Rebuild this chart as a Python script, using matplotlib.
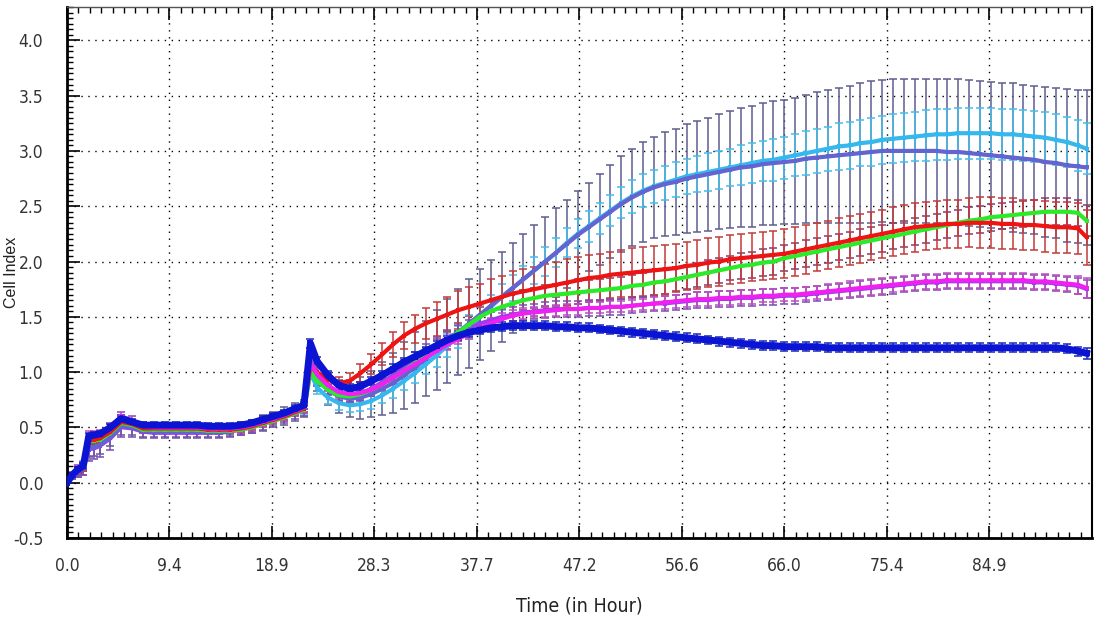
import matplotlib
matplotlib.use('Agg')
import matplotlib.pyplot as plt
from matplotlib import font_manager
from matplotlib.ticker import AutoMinorLocator, FixedLocator

# time points (hours)
hours = [0, 0.5, 1, 1.5, 2, 2.5, 3, 4, 5, 6,
         7, 8, 9, 10, 11, 12, 13, 14, 15, 16,
         17, 18, 19, 20, 21, 21.8, 22.4, 23, 24, 25,
         26, 27, 28, 29, 30, 31, 32, 33, 34, 35,
         36, 37, 38, 39, 40, 41, 42, 43, 44, 45,
         46, 47, 48, 49, 50, 51, 52, 53, 54, 55,
         56, 57, 58, 59, 60, 61, 62, 63, 64, 65,
         66, 67, 68, 69, 70, 71, 72, 73, 74, 75,
         76, 77, 78, 79, 80, 81, 82, 83, 84, 85,
         86, 87, 88, 89, 90, 91, 92, 93, 93.8]

# cell index, mean per condition
blue = [0.00, 0.07, 0.12, 0.15, 0.42, 0.43, 0.44, 0.50, 0.58, 0.55,
        0.52, 0.52, 0.52, 0.52, 0.52, 0.52, 0.51, 0.51, 0.51, 0.52,
        0.54, 0.57, 0.60, 0.63, 0.67, 0.70, 1.26, 1.10, 0.97, 0.88,
        0.85, 0.87, 0.92, 0.97, 1.03, 1.09, 1.14, 1.19, 1.24, 1.29,
        1.33, 1.36, 1.38, 1.40, 1.41, 1.42, 1.42, 1.42, 1.42, 1.41,
        1.41, 1.40, 1.40, 1.39, 1.38, 1.37, 1.36, 1.35, 1.34, 1.33,
        1.32, 1.31, 1.30, 1.29, 1.28, 1.27, 1.26, 1.25, 1.24, 1.24,
        1.23, 1.23, 1.23, 1.23, 1.22, 1.22, 1.22, 1.22, 1.22, 1.22,
        1.22, 1.22, 1.22, 1.22, 1.22, 1.22, 1.22, 1.22, 1.22, 1.22,
        1.22, 1.22, 1.22, 1.22, 1.22, 1.22, 1.21, 1.19, 1.17]
red = [0.00, 0.07, 0.11, 0.14, 0.38, 0.39, 0.40, 0.46, 0.55, 0.53,
       0.49, 0.49, 0.49, 0.49, 0.49, 0.49, 0.48, 0.48, 0.48, 0.49,
       0.51, 0.54, 0.57, 0.60, 0.64, 0.67, 1.05, 1.00, 0.93, 0.90,
       0.92, 0.99, 1.07, 1.16, 1.25, 1.33, 1.39, 1.44, 1.48, 1.52,
       1.56, 1.59, 1.62, 1.65, 1.68, 1.71, 1.73, 1.75, 1.77, 1.79,
       1.81, 1.83, 1.85, 1.86, 1.88, 1.89, 1.90, 1.91, 1.92, 1.93,
       1.94, 1.96, 1.97, 1.99, 2.00, 2.02, 2.03, 2.04, 2.05, 2.06,
       2.07, 2.09, 2.11, 2.13, 2.15, 2.17, 2.19, 2.21, 2.23, 2.25,
       2.27, 2.29, 2.31, 2.32, 2.33, 2.34, 2.34, 2.35, 2.35, 2.35,
       2.34, 2.34, 2.33, 2.33, 2.32, 2.31, 2.31, 2.30, 2.22]
green = [0.00, 0.07, 0.11, 0.14, 0.37, 0.38, 0.39, 0.45, 0.54, 0.52,
         0.48, 0.48, 0.48, 0.48, 0.48, 0.48, 0.47, 0.47, 0.47, 0.48,
         0.50, 0.53, 0.56, 0.59, 0.63, 0.66, 1.00, 0.92, 0.84, 0.79,
         0.78, 0.80, 0.84, 0.89, 0.95, 1.01, 1.08, 1.15, 1.22, 1.29,
         1.36, 1.43, 1.50, 1.55, 1.59, 1.62, 1.65, 1.67, 1.69, 1.70,
         1.71, 1.72, 1.73, 1.74, 1.75, 1.76, 1.78, 1.79, 1.81, 1.82,
         1.84, 1.86, 1.88, 1.90, 1.92, 1.94, 1.96, 1.97, 1.99, 2.00,
         2.03, 2.05, 2.07, 2.09, 2.11, 2.13, 2.15, 2.17, 2.19, 2.21,
         2.23, 2.25, 2.27, 2.29, 2.31, 2.33, 2.35, 2.37, 2.38, 2.40,
         2.41, 2.42, 2.43, 2.44, 2.45, 2.45, 2.45, 2.44, 2.37]
magenta = [0.00, 0.08, 0.13, 0.16, 0.43, 0.43, 0.44, 0.50, 0.60, 0.56,
           0.51, 0.50, 0.50, 0.50, 0.50, 0.50, 0.49, 0.49, 0.49, 0.50,
           0.52, 0.55, 0.58, 0.61, 0.65, 0.68, 1.08, 0.98, 0.88, 0.82,
           0.80, 0.81, 0.84, 0.89, 0.95, 1.01, 1.07, 1.13, 1.19, 1.25,
           1.30, 1.35, 1.40, 1.44, 1.48, 1.51, 1.53, 1.54, 1.55, 1.56,
           1.57, 1.57, 1.58, 1.58, 1.59, 1.59, 1.60, 1.61, 1.62, 1.63,
           1.64, 1.65, 1.66, 1.66, 1.67, 1.67, 1.68, 1.68, 1.69, 1.69,
           1.70, 1.70, 1.71, 1.72, 1.73, 1.74, 1.75, 1.76, 1.77, 1.78,
           1.79, 1.80, 1.81, 1.82, 1.82, 1.83, 1.83, 1.83, 1.83, 1.83,
           1.83, 1.83, 1.83, 1.82, 1.82, 1.81, 1.80, 1.79, 1.76]
violet = [0.00, 0.06, 0.10, 0.13, 0.30, 0.31, 0.33, 0.40, 0.50, 0.49,
          0.46, 0.45, 0.45, 0.45, 0.45, 0.45, 0.45, 0.45, 0.46, 0.48,
          0.50, 0.53, 0.56, 0.59, 0.63, 0.66, 1.10, 0.96, 0.87, 0.82,
          0.80, 0.81, 0.85, 0.91, 0.97, 1.04, 1.11, 1.18, 1.25, 1.31,
          1.36, 1.40, 1.44, 1.47, 1.50, 1.52, 1.54, 1.55, 1.56, 1.57,
          1.57, 1.57, 1.58, 1.58, 1.59, 1.59, 1.60, 1.61, 1.62, 1.62,
          1.63, 1.64, 1.65, 1.65, 1.66, 1.66, 1.67, 1.67, 1.68, 1.68,
          1.69, 1.69, 1.70, 1.71, 1.72, 1.73, 1.74, 1.75, 1.76, 1.77,
          1.78, 1.79, 1.80, 1.81, 1.81, 1.82, 1.82, 1.82, 1.82, 1.82,
          1.82, 1.82, 1.82, 1.81, 1.81, 1.80, 1.79, 1.78, 1.75]
cyan = [0.00, 0.08, 0.13, 0.17, 0.40, 0.41, 0.43, 0.50, 0.60, 0.56,
        0.51, 0.50, 0.50, 0.50, 0.50, 0.50, 0.49, 0.49, 0.49, 0.50,
        0.52, 0.55, 0.58, 0.61, 0.65, 0.66, 1.00, 0.86, 0.77, 0.72,
        0.70, 0.71, 0.74, 0.79, 0.85, 0.92, 0.99, 1.07, 1.15, 1.24,
        1.32, 1.41, 1.50, 1.59, 1.68, 1.76, 1.84, 1.92, 2.00, 2.08,
        2.17, 2.25, 2.32, 2.39, 2.46, 2.53, 2.59, 2.64, 2.68, 2.71,
        2.74, 2.77, 2.79, 2.81, 2.83, 2.85, 2.87, 2.89, 2.91, 2.92,
        2.94, 2.96, 2.98, 3.00, 3.02, 3.04, 3.05, 3.07, 3.08, 3.10,
        3.11, 3.12, 3.13, 3.14, 3.15, 3.15, 3.16, 3.16, 3.16, 3.16,
        3.15, 3.15, 3.14, 3.13, 3.12, 3.10, 3.08, 3.05, 3.02]
slate = [0.00, 0.06, 0.10, 0.13, 0.31, 0.32, 0.34, 0.41, 0.51, 0.50,
         0.47, 0.46, 0.46, 0.46, 0.46, 0.46, 0.46, 0.46, 0.47, 0.49,
         0.51, 0.54, 0.57, 0.60, 0.64, 0.67, 1.12, 0.95, 0.84, 0.78,
         0.76, 0.77, 0.80, 0.85, 0.90, 0.97, 1.04, 1.12, 1.20, 1.28,
         1.36, 1.44, 1.52, 1.60, 1.68, 1.76, 1.84, 1.92, 2.00, 2.08,
         2.16, 2.24, 2.31, 2.38, 2.45, 2.52, 2.58, 2.63, 2.67, 2.70,
         2.72, 2.75, 2.77, 2.79, 2.81, 2.83, 2.85, 2.86, 2.88, 2.89,
         2.90, 2.91, 2.93, 2.94, 2.95, 2.96, 2.97, 2.98, 2.99, 3.00,
         3.00, 3.00, 3.00, 3.00, 3.00, 2.99, 2.99, 2.98, 2.97, 2.96,
         2.95, 2.94, 2.93, 2.92, 2.90, 2.89, 2.87, 2.86, 2.85]

# standard deviations
blue_sd = [0.00, 0.02, 0.02, 0.03, 0.03, 0.03, 0.03, 0.03, 0.03, 0.03,
           0.03, 0.03, 0.03, 0.03, 0.03, 0.03, 0.03, 0.03, 0.03, 0.03,
           0.03, 0.03, 0.03, 0.03, 0.03, 0.03, 0.04, 0.04, 0.04, 0.04,
           0.04, 0.04, 0.04, 0.04, 0.04, 0.04, 0.04, 0.04, 0.04, 0.04,
           0.04, 0.04, 0.04, 0.04, 0.04, 0.04, 0.04, 0.04, 0.04, 0.04,
           0.04, 0.04, 0.04, 0.04, 0.04, 0.04, 0.04, 0.04, 0.04, 0.04,
           0.04, 0.04, 0.04, 0.04, 0.04, 0.04, 0.04, 0.04, 0.04, 0.04,
           0.04, 0.04, 0.04, 0.04, 0.04, 0.04, 0.04, 0.04, 0.04, 0.04,
           0.04, 0.04, 0.04, 0.04, 0.04, 0.04, 0.04, 0.04, 0.04, 0.04,
           0.04, 0.04, 0.04, 0.04, 0.04, 0.04, 0.04, 0.04, 0.05]
red_sd = [0.00, 0.02, 0.03, 0.03, 0.03, 0.03, 0.03, 0.03, 0.03, 0.03,
          0.03, 0.03, 0.03, 0.03, 0.03, 0.03, 0.03, 0.03, 0.03, 0.03,
          0.03, 0.03, 0.03, 0.03, 0.03, 0.03, 0.05, 0.05, 0.05, 0.06,
          0.07, 0.08, 0.09, 0.10, 0.11, 0.12, 0.13, 0.14, 0.15, 0.16,
          0.17, 0.18, 0.18, 0.19, 0.19, 0.20, 0.20, 0.20, 0.21, 0.21,
          0.21, 0.21, 0.21, 0.21, 0.21, 0.21, 0.22, 0.22, 0.22, 0.22,
          0.22, 0.22, 0.22, 0.22, 0.22, 0.22, 0.22, 0.22, 0.22, 0.22,
          0.22, 0.22, 0.22, 0.22, 0.22, 0.22, 0.22, 0.22, 0.22, 0.22,
          0.22, 0.22, 0.22, 0.22, 0.22, 0.22, 0.22, 0.22, 0.23, 0.23,
          0.23, 0.23, 0.23, 0.23, 0.23, 0.23, 0.23, 0.23, 0.25]
green_sd = [0.00, 0.02, 0.03, 0.03, 0.03, 0.03, 0.03, 0.03, 0.03, 0.03,
            0.03, 0.03, 0.03, 0.03, 0.03, 0.03, 0.03, 0.03, 0.03, 0.03,
            0.03, 0.03, 0.03, 0.03, 0.03, 0.03, 0.05, 0.05, 0.05, 0.05,
            0.05, 0.05, 0.06, 0.06, 0.06, 0.07, 0.07, 0.07, 0.08, 0.08,
            0.08, 0.08, 0.09, 0.09, 0.09, 0.09, 0.09, 0.09, 0.10, 0.10,
            0.10, 0.10, 0.10, 0.10, 0.10, 0.10, 0.10, 0.11, 0.11, 0.11,
            0.11, 0.11, 0.11, 0.11, 0.11, 0.11, 0.12, 0.12, 0.12, 0.12,
            0.12, 0.12, 0.12, 0.12, 0.12, 0.12, 0.12, 0.12, 0.12, 0.12,
            0.12, 0.12, 0.12, 0.12, 0.12, 0.12, 0.12, 0.12, 0.12, 0.12,
            0.12, 0.12, 0.12, 0.12, 0.12, 0.12, 0.12, 0.12, 0.14]
magenta_sd = [0.00, 0.02, 0.03, 0.03, 0.04, 0.04, 0.04, 0.04, 0.04, 0.04,
              0.04, 0.04, 0.04, 0.04, 0.04, 0.04, 0.04, 0.04, 0.04, 0.04,
              0.04, 0.04, 0.04, 0.04, 0.04, 0.04, 0.05, 0.05, 0.05, 0.05,
              0.05, 0.05, 0.05, 0.05, 0.05, 0.05, 0.05, 0.05, 0.05, 0.05,
              0.05, 0.05, 0.05, 0.05, 0.05, 0.05, 0.05, 0.05, 0.05, 0.05,
              0.05, 0.05, 0.05, 0.05, 0.05, 0.05, 0.05, 0.05, 0.06, 0.06,
              0.06, 0.06, 0.06, 0.06, 0.06, 0.06, 0.06, 0.06, 0.06, 0.06,
              0.06, 0.06, 0.06, 0.06, 0.07, 0.07, 0.07, 0.07, 0.07, 0.07,
              0.07, 0.07, 0.07, 0.07, 0.07, 0.07, 0.07, 0.07, 0.07, 0.07,
              0.07, 0.07, 0.07, 0.07, 0.07, 0.07, 0.07, 0.08, 0.09]
violet_sd = [0.00, 0.03, 0.05, 0.06, 0.10, 0.10, 0.10, 0.10, 0.09, 0.08,
             0.06, 0.05, 0.05, 0.05, 0.05, 0.05, 0.05, 0.05, 0.05, 0.05,
             0.05, 0.05, 0.05, 0.05, 0.05, 0.06, 0.08, 0.08, 0.07, 0.07,
             0.07, 0.07, 0.07, 0.07, 0.07, 0.07, 0.07, 0.07, 0.07, 0.07,
             0.07, 0.07, 0.07, 0.07, 0.07, 0.07, 0.07, 0.07, 0.07, 0.07,
             0.07, 0.07, 0.07, 0.07, 0.07, 0.07, 0.07, 0.07, 0.07, 0.07,
             0.07, 0.07, 0.07, 0.07, 0.07, 0.07, 0.07, 0.07, 0.07, 0.07,
             0.07, 0.07, 0.07, 0.07, 0.07, 0.07, 0.07, 0.07, 0.07, 0.07,
             0.07, 0.07, 0.07, 0.07, 0.07, 0.07, 0.07, 0.07, 0.07, 0.07,
             0.07, 0.07, 0.07, 0.07, 0.07, 0.07, 0.07, 0.07, 0.08]
cyan_sd = [0.00, 0.02, 0.03, 0.03, 0.04, 0.04, 0.04, 0.04, 0.04, 0.04,
           0.03, 0.03, 0.03, 0.03, 0.03, 0.03, 0.03, 0.03, 0.03, 0.03,
           0.03, 0.03, 0.04, 0.04, 0.04, 0.05, 0.06, 0.06, 0.06, 0.06,
           0.06, 0.06, 0.07, 0.07, 0.08, 0.08, 0.09, 0.09, 0.10, 0.10,
           0.10, 0.11, 0.11, 0.11, 0.12, 0.12, 0.12, 0.12, 0.13, 0.13,
           0.13, 0.13, 0.14, 0.14, 0.14, 0.14, 0.15, 0.15, 0.15, 0.15,
           0.16, 0.16, 0.16, 0.17, 0.17, 0.17, 0.18, 0.18, 0.18, 0.19,
           0.19, 0.19, 0.20, 0.20, 0.20, 0.21, 0.21, 0.21, 0.22, 0.22,
           0.22, 0.22, 0.22, 0.23, 0.23, 0.23, 0.23, 0.23, 0.23, 0.23,
           0.23, 0.23, 0.23, 0.23, 0.23, 0.23, 0.23, 0.23, 0.23]
slate_sd = [0.00, 0.03, 0.05, 0.06, 0.08, 0.08, 0.08, 0.08, 0.08, 0.07,
            0.06, 0.05, 0.05, 0.05, 0.05, 0.05, 0.05, 0.05, 0.05, 0.06,
            0.06, 0.07, 0.07, 0.08, 0.08, 0.08, 0.10, 0.12, 0.14, 0.15,
            0.17, 0.19, 0.21, 0.24, 0.27, 0.30, 0.32, 0.34, 0.36, 0.38,
            0.39, 0.40, 0.41, 0.41, 0.41, 0.41, 0.41, 0.41, 0.40, 0.40,
            0.40, 0.40, 0.40, 0.41, 0.42, 0.43, 0.44, 0.45, 0.46, 0.47,
            0.48, 0.49, 0.50, 0.51, 0.52, 0.53, 0.54, 0.55, 0.55, 0.56,
            0.56, 0.57, 0.58, 0.59, 0.60, 0.61, 0.62, 0.63, 0.64, 0.64,
            0.65, 0.65, 0.65, 0.65, 0.65, 0.66, 0.66, 0.66, 0.66, 0.66,
            0.66, 0.67, 0.67, 0.67, 0.68, 0.68, 0.69, 0.69, 0.70]

xtick_labels = ['0.0', '9.4', '18.9', '28.3', '37.7', '47.2', '56.6', '66.0', '75.4', '84.9', '']
ytick_vals = [-0.5, 0.0, 0.5, 1.0, 1.5, 2.0, 2.5, 3.0, 3.5, 4.0]


def narrow_font(size):
    # a condensed face, like the Arial Narrow of the instrument software
    for fam in ['Liberation Sans Narrow', 'DejaVu Sans']:
        fp = font_manager.FontProperties(family=fam, stretch='condensed', size=size)
        try:
            font_manager.findfont(fp, fallback_to_default=False)
            return fp
        except ValueError:
            pass
    return font_manager.FontProperties(family='DejaVu Sans', size=size)


fig = plt.figure(figsize=(10.98, 6.26), dpi=100)
ax = fig.add_axes([0.061, 0.1406, 0.9335, 0.848])

# error bars (drawn first, behind the lines)
bars = [
    (slate, slate_sd, '#5E5E90', 2.0),
    (red, red_sd, '#C43A3A', 2.2),
    (magenta, magenta_sd, '#C04CC0', 2.3),
    (green, green_sd, '#8A3A6A', 2.1),
    (cyan, cyan_sd, '#46BCEA', 2.1),
    (violet, violet_sd, '#7A4CB4', 2.2),
    (blue, blue_sd, '#1828B8', 2.4),
]
for yv, sd, ec, z in bars:
    ax.errorbar(hours, yv, yerr=sd, fmt='none', ecolor=ec, elinewidth=1.1,
                capsize=3.2, capthick=1.1, zorder=z)

lines = [
    (cyan, '#35B8EE', 3.0, 3.2, 4.0),
    (slate, '#6464D0', 3.0, 3.2, 4.2),
    (violet, '#9A3CF0', 2.8, 3.0, 4.1),
    (green, '#2AEA2A', 3.0, 3.2, 4.3),
    (red, '#EE1414', 3.0, 3.2, 4.4),
    (magenta, '#F020F0', 3.0, 3.2, 4.5),
    (blue, '#0A14D2', 5.0, 4.5, 4.8),
]
for yv, col, lw, ms, z in lines:
    ax.plot(hours, yv, color=col, linewidth=lw, marker='s', markersize=ms,
            markeredgewidth=0, zorder=z)

ax.set_xlim(0, 94.3)
ax.set_ylim(-0.5, 4.3)
xt = [i * 9.43 for i in range(len(xtick_labels))]
ax.xaxis.set_major_locator(FixedLocator(xt))
ax.set_xticklabels(xtick_labels)
ax.set_yticks(ytick_vals)
ax.set_yticklabels(['%.1f' % v for v in ytick_vals])
ax.xaxis.set_minor_locator(AutoMinorLocator(9))
ax.yaxis.set_minor_locator(AutoMinorLocator(10))

ax.tick_params(which='both', direction='in', top=True, right=False, colors='black')
ax.tick_params(which='major', length=9, width=1.2)
ax.tick_params(which='minor', length=4.5, width=1.0)
ax.tick_params(axis='y', which='major', pad=17, labelcolor='#333333')
ax.tick_params(axis='x', which='major', pad=14, labelcolor='#333333')
tick_fp = narrow_font(12.5)
for lab in ax.get_xticklabels() + ax.get_yticklabels():
    lab.set_fontproperties(tick_fp)

ax.grid(True, which='major', color='black', linestyle=(0, (1, 4)), linewidth=1.0)
ax.spines['left'].set_linewidth(2.0)
ax.spines['bottom'].set_linewidth(2.0)
ax.spines['right'].set_linewidth(1.5)
ax.spines['top'].set_linewidth(1.0)
ax.spines['top'].set_color('#555555')

ax.set_xlabel('Time (in Hour)', fontproperties=narrow_font(14), color='#222222')
ax.xaxis.set_label_coords(0.5, -0.11)
ax.set_ylabel('Cell Index', family=['Liberation Sans', 'DejaVu Sans'], fontsize=11.5,
              color='#222222')
ax.yaxis.set_label_coords(-0.047, 0.5)

fig.savefig('out.png', dpi=100)
